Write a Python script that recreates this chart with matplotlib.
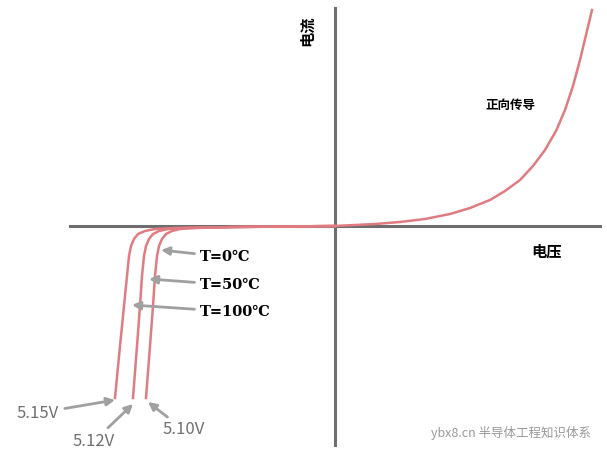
import matplotlib.pyplot as plt

plt.rcParams['font.family'] = ['Noto Sans CJK SC', 'DejaVu Sans']

# forward branch (arbitrary units, origin at the axis crossing)
fwd_v = [0, 40, 65, 90, 115, 135, 155, 170, 185, 198, 210, 221, 230, 238, 245, 251, 257]
fwd_i = [0, 2, 4, 7, 12, 18, 26, 35, 46, 60, 76, 95, 116, 140, 166, 191, 216]

# reverse breakdown branches
rev_i = [0, -1, -2, -3, -5, -8, -13, -20, -30, -50, -80, -120, -172]
rev_0 = [0, -100, -140, -155, -163, -169, -173, -176, -178, -180, -182, -185, -189]
rev_50 = [0, -100, -150, -167, -176, -182, -186, -189, -191, -193, -195, -198, -202]
rev_100 = [0, -100, -160, -180, -190, -197, -201, -204, -206, -208, -211, -215, -220]

temp_labels = ['T=0℃', 'T=50℃', 'T=100℃']
volt_labels = ['5.15V', '5.12V', '5.10V']

fig = plt.figure(figsize=(6.07, 4.62), dpi=100)
ax = fig.add_axes([0, 0, 1, 1])
ax.set_xlim(-335, 272)
ax.set_ylim(-236, 226)
ax.axis('off')

gray = '#6e6e6e'
ax.plot([-265, 265], [0, 0], color=gray, lw=2.2)
ax.plot([0, 0], [-219, 218], color=gray, lw=2.2)

red = '#e07b82'
ax.plot(fwd_v, fwd_i, color=red, lw=1.8)
for rv in (rev_0, rev_50, rev_100):
    ax.plot(rv, rev_i, color=red, lw=1.8)

ax.text(-28, 195, '电流', rotation=90, fontsize=11, fontweight='bold', ha='center', va='center')
ax.text(212, -26, '电压', fontsize=11, fontweight='bold', ha='center', va='center')
ax.text(175, 121, '正向传导', fontsize=9, fontweight='bold', ha='center', va='center')

arr = dict(arrowstyle='-|>', color='#a0a0a0', lw=2, mutation_scale=12, shrinkA=2, shrinkB=0)
tx = [-135, -135, -135]
ty = [-31, -59, -86]
pts = [(-174, -24), (-186, -53), (-203, -79)]
for lab, x, y, p in zip(temp_labels, tx, ty, pts):
    ax.annotate(lab, xy=p, xytext=(x, y), fontsize=10.5, fontweight='bold',
                family='DejaVu Serif', va='center', arrowprops=arr)

vx = [-318, -262, -172]
vy = [-187, -215, -204]
vpts = [(-220, -174), (-202, -178), (-187, -176)]
for lab, x, y, p in zip(volt_labels, vx, vy, vpts):
    ax.annotate(lab, xy=p, xytext=(x, y), fontsize=12, color='#707070',
                va='center', arrowprops=arr)

ax.text(96, -207, 'ybx8.cn 半导体工程知识体系', fontsize=9, color='#999999', va='center')

fig.savefig('out.png', dpi=100)
